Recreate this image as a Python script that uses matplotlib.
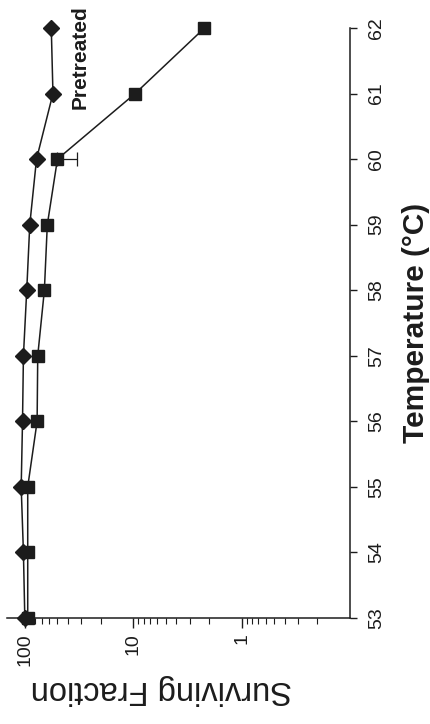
import numpy as np
import matplotlib
matplotlib.use("Agg")
import matplotlib.pyplot as plt
from matplotlib.ticker import LogLocator, NullFormatter

plt.rcParams['font.family'] = ['Liberation Sans', 'DejaVu Sans']

temps = [53, 54, 55, 56, 57, 58, 59, 60, 61, 62]
pretreated = [100, 103, 108, 105, 103, 96, 90, 78, 55, 57]
control = [94, 94, 94, 77, 76, 66, 62, 50, 9.6, 2.2]
err_temp = [60]
err_val = [50]
err_low = [17]

frac_ticks = [100, 10, 1]
frac_labels = ['100', '10', '1']
temp_ticks = temps

ink = '#1c1c1c'

fig = plt.figure(figsize=(4.3, 7.24), dpi=100)
ax = fig.add_axes([7 / 430, 106 / 724, 343 / 430, 590 / 724])

# chart is shown turned 90 degrees: fraction runs along x, temperature along y
ax.plot(control, temps, color=ink, lw=1.1, marker='s', ms=9,
        mfc=ink, mec=ink, clip_on=False, zorder=3)
ax.errorbar(err_val, err_temp, xerr=[err_low, [0]], fmt='none',
            ecolor=ink, elinewidth=0.9, capsize=5, capthick=0.9, zorder=2)
ax.plot(pretreated, temps, color=ink, lw=1.1, marker='D', ms=8.5,
        mfc=ink, mec=ink, clip_on=False, zorder=4)

ax.set_xscale('log')
ax.set_xlim(146, 0.1)
ax.set_ylim(53, 62)

ax.set_xticks(frac_ticks, labels=frac_labels)
ax.xaxis.set_minor_locator(LogLocator(base=10, subs=np.arange(2, 10)))
ax.xaxis.set_minor_formatter(NullFormatter())
ax.set_yticks(temp_ticks)
ax.yaxis.tick_right()
ax.yaxis.set_label_position('right')

for s in ['top', 'left']:
    ax.spines[s].set_visible(False)
for s in ['bottom', 'right']:
    ax.spines[s].set_linewidth(1.1)
    ax.spines[s].set_color(ink)

ax.tick_params(axis='x', which='major', direction='out', length=7, width=1,
               pad=4, labelsize=14, labelrotation=90, colors=ink)
ax.tick_params(axis='x', which='minor', direction='out', length=4, width=0.8,
               colors=ink)
ax.tick_params(axis='y', which='major', direction='out', length=5, width=1,
               pad=8, labelsize=14, labelrotation=90, colors=ink)
for lab in ax.get_yticklabels():
    lab.set_va('center')
    lab.set_ha('left')

ax.set_ylabel('Temperature (\u00b0C)', fontsize=21.5, fontweight='bold',
              rotation=90, labelpad=12, color=ink)

fig.text(161 / 430, 34 / 724, 'Surviving Fraction', fontsize=23.5,
         rotation=180, ha='center', va='center', color=ink)

ax.text(31, 61.56, 'Pretreated', fontsize=15, fontweight='bold',
        rotation=90, ha='center', va='center', color=ink)

fig.savefig('out.png', dpi=100)
